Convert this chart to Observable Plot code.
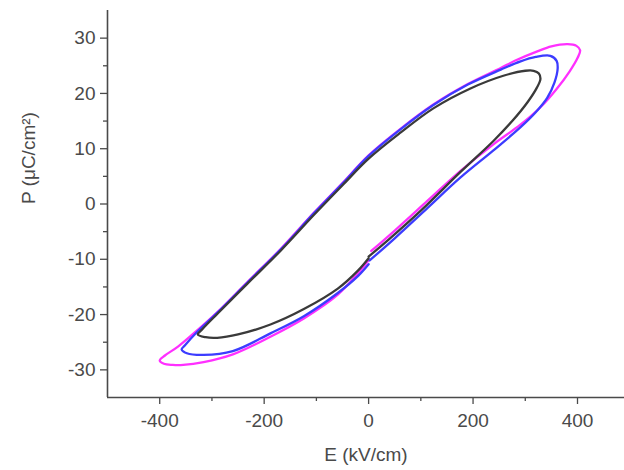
<!DOCTYPE html>
<html>
<head>
<meta charset="utf-8">
<script src="https://cdn.jsdelivr.net/npm/d3@7"></script>
<script src="https://cdn.jsdelivr.net/npm/@observablehq/plot@0.6"></script>
<style>
  html, body { margin: 0; padding: 0; background: #fff; }
</style>
</head>
<body>
<div id="chart"></div>
<script>
// Magenta loop (Emax ≈ 400 kV/cm)
const magentaE = [5, 50, 113, 176, 239, 290, 330, 360, 385, 400, 405, 398, 381, 350, 323, 280, 253, 190, 124, 61, 0, -50, -105, -168, -232, -289, -330, -365, -390, -400, -392, -375, -355, -316, -260, -188, -124, -59, -20, 0];
const magentaP = [-8.5, -4.8, 0.6, 6.0, 10.8, 14.3, 17.6, 20.8, 24.0, 26.4, 27.8, 28.6, 28.9, 28.5, 27.6, 25.9, 24.6, 21.7, 18.0, 13.6, 8.8, 3.8, -1.6, -8.1, -14.1, -19.5, -23, -25.8, -27.4, -28.3, -28.9, -29.1, -29.1, -28.6, -27.2, -24, -20.7, -16.4, -12.5, -10.2];

// Blue loop (Emax ≈ 360 kV/cm)
const blueE = [2, 50, 113, 176, 239, 291, 320, 342, 356, 362, 360, 348, 320, 291, 253, 190, 124, 61, 0, -50, -105, -168, -232, -289, -330, -352, -358, -348, -316, -260, -188, -124, -59, -20, 0];
const blueP = [-10.2, -6.2, -0.7, 4.8, 9.7, 13.9, 16.6, 19.2, 22.0, 24.5, 25.9, 26.8, 26.6, 25.8, 24.3, 21.6, 17.9, 13.5, 8.7, 3.7, -1.7, -8.2, -14.2, -19.6, -23.3, -25.6, -26.3, -27, -27.3, -26.6, -23.4, -20.3, -16.1, -13, -10.9];

// Black loop (Emax ≈ 330 kV/cm)
const blackE = [0, 40, 100, 176, 239, 275, 305, 322, 329, 326, 316, 300, 258, 195, 124, 61, 0, -50, -105, -168, -232, -289, -318, -327, -312, -290, -250, -188, -124, -59, -20, 0];
const blackP = [-9.5, -6.3, -1.2, 5.8, 11.4, 15.0, 18.5, 21.0, 22.6, 23.6, 24.1, 24.1, 23.2, 20.9, 17.3, 12.9, 8.2, 3.4, -2, -8.4, -14.4, -19.8, -22.6, -23.6, -24.1, -24.2, -23.6, -21.8, -19, -15.3, -12, -9.8];

const xMajor = [-400, -200, 0, 200, 400];
const xMinor = [-300, -100, 100, 300];
const yMajor = [-30, -20, -10, 0, 10, 20, 30];
const yMinor = [-25, -15, -5, 5, 15, 25];

const xLabel = "E (kV/cm)";
const yLabel = "P (\u03bcC/cm\u00b2)";

const loops = [
  {name: "magenta", E: magentaE, P: magentaP, color: "#ff30ff"},
  {name: "blue", E: blueE, P: blueP, color: "#3c3cff"},
  {name: "black", E: blackE, P: blackP, color: "#3a3a3a"}
];

const axisColor = "#4a4a4a";
const fmt = d => String(d);

const chart = Plot.plot({
  width: 624,
  height: 470,
  marginLeft: 107,
  marginRight: 0,
  marginTop: 10,
  marginBottom: 73,
  style: {fontFamily: "'Liberation Sans', Arial, sans-serif", fontSize: "19px", color: axisColor, background: "#fff"},
  x: {domain: [-500, 490]},
  y: {domain: [-35, 35]},
  marks: [
    ...loops.map(l => Plot.line(l.E.map((e, i) => ({E: e, P: l.P[i]})), {
      x: "E", y: "P", stroke: l.color, strokeWidth: 2.3, curve: "catmull-rom"
    })),
    Plot.axisX(xMajor, {tickSize: 7, tickPadding: 9, tickFormat: fmt, label: null, stroke: axisColor, strokeWidth: 1.3}),
    Plot.axisX(xMinor, {tickSize: 4, tickFormat: () => "", label: null, stroke: axisColor, strokeWidth: 1.3}),
    Plot.axisY(yMajor, {tickSize: 7, tickPadding: 5, tickFormat: fmt, label: null, stroke: axisColor, strokeWidth: 1.3}),
    Plot.axisY(yMinor, {tickSize: 4, tickFormat: () => "", label: null, stroke: axisColor, strokeWidth: 1.3}),
    Plot.ruleX([-500], {stroke: axisColor, strokeWidth: 1.6}),
    Plot.ruleY([-35], {stroke: axisColor, strokeWidth: 1.6}),
    Plot.text([xLabel], {frameAnchor: "bottom", dy: 57, lineAnchor: "middle", fill: axisColor, fontSize: 19}),
    Plot.text([yLabel], {frameAnchor: "left", dx: -79, rotate: -90, lineAnchor: "middle", fill: axisColor, fontSize: 19})
  ]
});

document.getElementById("chart").appendChild(chart);
</script>
</body>
</html>
